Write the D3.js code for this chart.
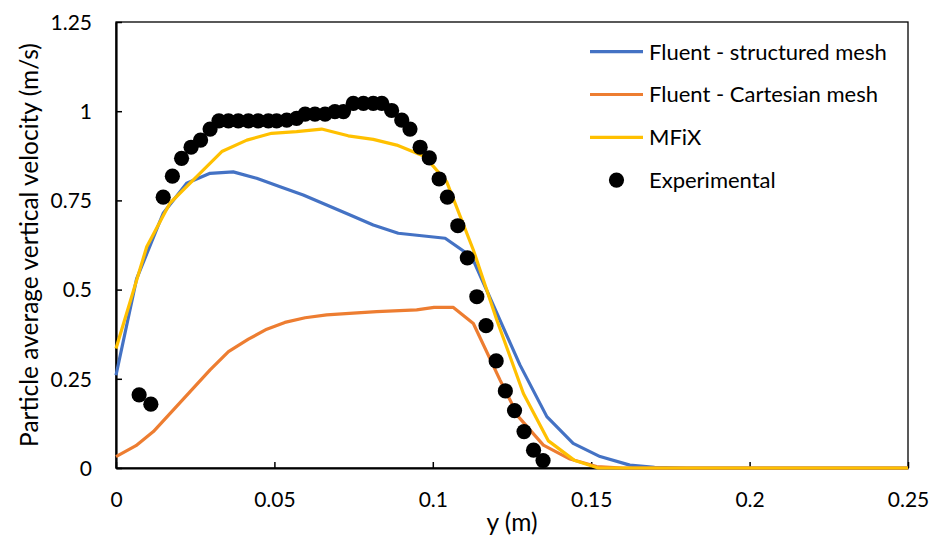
<!DOCTYPE html>
<html><head><meta charset="utf-8">
<script src="https://cdn.jsdelivr.net/npm/d3@7"></script>
<style>body{margin:0;background:#fff}svg text{font-family:Lato,"Open Sans",sans-serif;fill:#000}</style>
</head><body><svg id="c" width="935" height="538"></svg>
<script>
const seriesNames = ["Fluent - structured mesh","Fluent - Cartesian mesh","MFiX","Experimental"];
const seriesColors = ["#4472C4","#ED7D31","#FFC000","#000000"];
const xTicks = [0,0.05,0.1,0.15,0.2,0.25];
const xTickLabels = ["0","0.05","0.1","0.15","0.2","0.25"];
const yTicks = [0,0.25,0.5,0.75,1,1.25];
const yTickLabels = ["0","0.25","0.5","0.75","1","1.25"];

const blueX = [0,0.0065,0.0149,0.0223,0.0297,0.037,0.0444,0.0518,0.0591,0.0665,0.0739,0.0812,0.0891,0.0965,0.1039,0.1123,0.1275,0.136,0.1443,0.1528,0.1622,0.17,0.18,0.25];
const blueY = [0.26,0.53,0.714,0.798,0.826,0.830,0.812,0.788,0.765,0.737,0.709,0.681,0.658,0.651,0.644,0.592,0.289,0.144,0.069,0.032,0.008,0.002,0,0];
const orangeX = [0,0.0063,0.0118,0.0176,0.0234,0.0297,0.0355,0.0418,0.0476,0.0533,0.0597,0.0665,0.0749,0.0823,0.0949,0.1004,0.1065,0.1128,0.1212,0.127,0.1349,0.1433,0.1517,0.16,0.25];
const orangeY = [0.032,0.0625,0.102,0.158,0.214,0.275,0.326,0.361,0.389,0.408,0.421,0.429,0.434,0.438,0.443,0.45,0.45,0.405,0.247,0.144,0.064,0.025,0.004,0,0];
const yellowX = [0,0.0097,0.017,0.0249,0.0334,0.0413,0.0491,0.057,0.0649,0.0733,0.0812,0.0886,0.0975,0.1044,0.1128,0.1202,0.1286,0.1365,0.1446,0.1522,0.25];
const yellowY = [0.335,0.62,0.742,0.812,0.887,0.919,0.938,0.943,0.95,0.931,0.921,0.905,0.873,0.802,0.611,0.415,0.209,0.076,0.022,0,0];
const expX = [0.0073,0.0110,0.0149,0.0178,0.0207,0.0237,0.0267,0.0297,0.0325,0.0355,0.0386,0.0418,0.0449,0.0481,0.0507,0.0539,0.0570,0.0597,0.0628,0.0660,0.0691,0.0718,0.0749,0.0781,0.0812,0.0839,0.0870,0.0902,0.0928,0.0960,0.0989,0.1020,0.1046,0.1079,0.1109,0.1139,0.1168,0.1200,0.1229,0.1258,0.1288,0.1318,0.1348];
const expY = [0.205,0.179,0.759,0.818,0.868,0.899,0.919,0.950,0.973,0.973,0.973,0.973,0.973,0.973,0.973,0.975,0.980,0.992,0.992,0.992,0.999,0.999,1.022,1.022,1.022,1.022,1.002,0.975,0.950,0.899,0.869,0.810,0.759,0.679,0.589,0.480,0.399,0.300,0.216,0.161,0.102,0.050,0.021];

const L=116, R=908, T=22, B=468;
const svg = d3.select("#c");
const x = d3.scaleLinear().domain([0,0.25]).range([L,R]);
const y = d3.scaleLinear().domain([0,1.25]).range([B,T]);
const FS = 21, LFS = 22, TFS = 24.5;

// plot border
svg.append("rect").attr("x",L).attr("y",T).attr("width",R-L).attr("height",B-T)
  .attr("fill","none").attr("stroke","#000").attr("stroke-width",1.3);

// axes
const xa = svg.append("g").attr("transform",`translate(0,${B})`)
  .call(d3.axisBottom(x).tickValues(xTicks).tickFormat((d,i)=>xTickLabels[i]).tickSizeInner(-6).tickSizeOuter(0).tickPadding(28));
xa.select(".domain").attr("stroke","#000").attr("stroke-width",2.2);
xa.selectAll(".tick line").attr("stroke","#000").attr("stroke-width",1.5);
xa.selectAll("text").attr("font-size",FS).attr("dy",null).attr("y",39);

const ya = svg.append("g").attr("transform",`translate(${L},0)`)
  .call(d3.axisLeft(y).tickValues(yTicks).tickFormat((d,i)=>yTickLabels[i]).tickSizeInner(-6).tickSizeOuter(0).tickPadding(0));
ya.select(".domain").attr("stroke","#000").attr("stroke-width",2.2);
ya.selectAll(".tick line").attr("stroke","#000").attr("stroke-width",1.5);
ya.selectAll("text").attr("font-size",FS).attr("x",-24).attr("dy","0.35em");

// axis titles
svg.append("text").attr("x",(L+R)/2).attr("y",531).attr("text-anchor","middle").attr("font-size",TFS).text("y (m)");
svg.append("text").attr("transform",`translate(38,${(T+B)/2}) rotate(-90)`).attr("text-anchor","middle").attr("font-size",TFS).text("Particle average vertical velocity (m/s)");

// lines
const line = d3.line().x(d=>x(d[0])).y(d=>y(d[1]));
const lineSets = [[blueX,blueY],[orangeX,orangeY],[yellowX,yellowY]];
lineSets.forEach((s,i)=>{
  svg.append("path").datum(s[0].map((v,k)=>[v,s[1][k]]))
    .attr("d",line).attr("fill","none").attr("stroke",seriesColors[i]).attr("stroke-width",3.2).attr("stroke-linejoin","round");
});
svg.append("g").selectAll("circle").data(expX.map((v,k)=>[v,expY[k]])).join("circle")
  .attr("cx",d=>x(d[0])).attr("cy",d=>y(d[1])).attr("r",7.6).attr("fill","#000");

// legend
const lg = svg.append("g");
seriesNames.forEach((n,i)=>{
  const ly = 51.7 + i*42.8;
  if(i<3) lg.append("line").attr("x1",590).attr("x2",643).attr("y1",ly).attr("y2",ly).attr("stroke",seriesColors[i]).attr("stroke-width",3.2);
  else lg.append("circle").attr("cx",616.5).attr("cy",ly).attr("r",7.6).attr("fill","#000");
  lg.append("text").attr("x",649).attr("y",ly+7.8).attr("font-size",LFS).text(n);
});
</script></body></html>
